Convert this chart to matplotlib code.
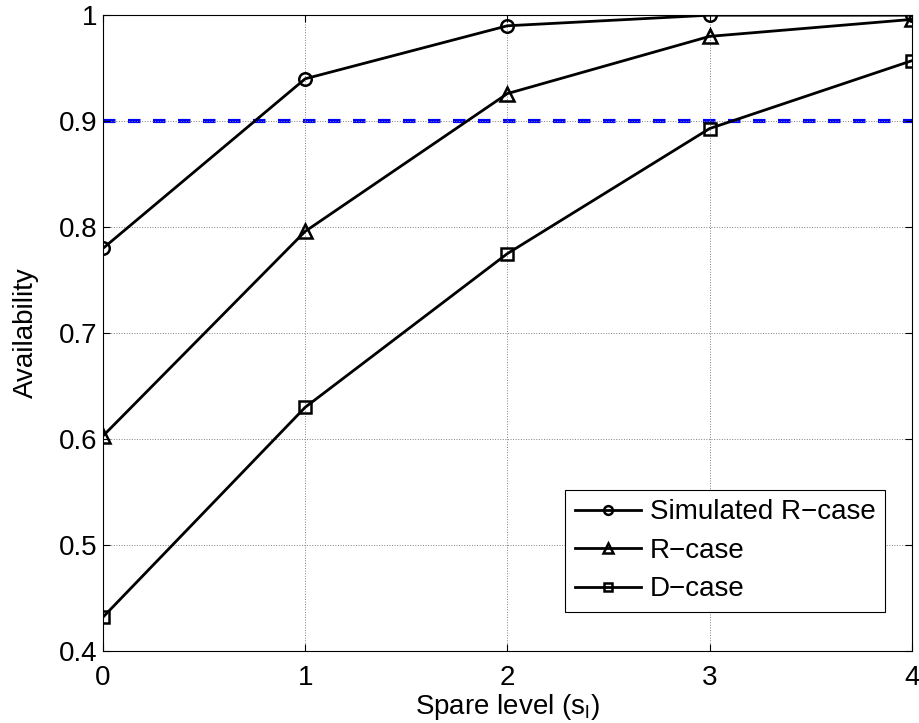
import matplotlib
matplotlib.use("Agg")
import matplotlib.pyplot as plt

plt.rcParams['font.family'] = ['Liberation Sans', 'DejaVu Sans']
plt.rcParams['font.size'] = 20

spare_levels = [0, 1, 2, 3, 4]
simulated_r = [0.78, 0.94, 0.99, 1.0, 1.0]
r_case = [0.603, 0.796, 0.926, 0.980, 0.996]
d_case = [0.432, 0.630, 0.775, 0.893, 0.957]
target = 0.9

fig = plt.figure(figsize=(9.2, 7.23), dpi=100)
ax = fig.add_axes([0.112, 0.0996, 0.879, 0.8794])

ax.plot(spare_levels, simulated_r, color='black', lw=2, marker='o',
        ms=9, mfc='none', mew=1.8, label='Simulated R\u2212case')
ax.plot(spare_levels, r_case, color='black', lw=2, marker='^',
        ms=10, mfc='none', mew=1.8, label='R\u2212case')
ax.plot(spare_levels, d_case, color='black', lw=2, marker='s',
        ms=8, mfc='none', mew=1.8, label='D\u2212case')
ax.axhline(target, color='blue', lw=3, dashes=(3, 3), zorder=1)

ax.set_xlim(0, 4)
ax.set_ylim(0.4, 1)
ax.set_xticks(spare_levels)
ax.set_yticks([0.4, 0.5, 0.6, 0.7, 0.8, 0.9, 1])
ax.set_yticklabels(['0.4', '0.5', '0.6', '0.7', '0.8', '0.9', '1'])
ax.tick_params(direction='in', top=True, right=True, length=5, width=0.8, pad=4)
ax.tick_params(axis='x', pad=10)
ax.grid(True, linestyle=':', color='gray', lw=0.7)
for s in ax.spines.values():
    s.set_linewidth(0.8)

ax.set_xlabel('Spare level (s$_\\mathregular{l}$)', labelpad=1)
ax.set_ylabel('Availability', labelpad=14)

leg = ax.legend(loc='lower right', bbox_to_anchor=(0.967, 0.061),
                fancybox=False, edgecolor='black', framealpha=1,
                markerscale=0.7, handlelength=2.4, handletextpad=0.3,
                labelspacing=0.45, borderpad=0.35, borderaxespad=0)
leg.get_frame().set_linewidth(0.8)

fig.savefig('out.png', dpi=100)
